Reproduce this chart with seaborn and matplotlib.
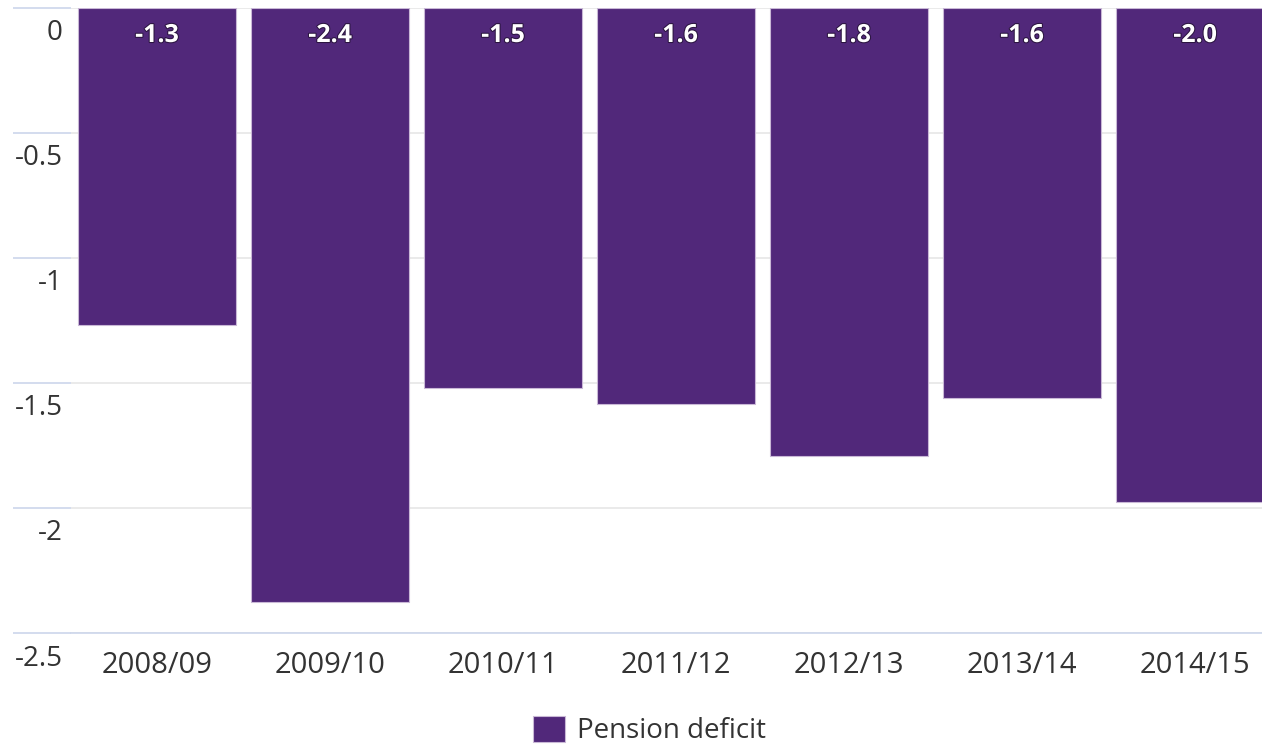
import matplotlib
matplotlib.use("Agg")
import matplotlib.pyplot as plt
import matplotlib.transforms as mtransforms
import matplotlib.patheffects as pe
from matplotlib.patches import Patch
import seaborn as sns
import pandas as pd

categories = ["2008/09", "2009/10", "2010/11", "2011/12", "2012/13", "2013/14", "2014/15"]
values = [-1.27, -2.376, -1.52, -1.584, -1.792, -1.56, -1.976]
yticks = [0, -0.5, -1, -1.5, -2, -2.5]
ytick_labels = ["0", "-0.5", "-1", "-1.5", "-2", "-2.5"]
series_name = "Pension deficit"

BAR = "#51287a"
GRID = "#e6e6e6"
AXIS = "#ccd6eb"
TEXT = "#333333"

sns.set_theme(style="white")
plt.rcParams["font.family"] = ["Open Sans", "DejaVu Sans"]

W, H = 1262, 748
fig = plt.figure(figsize=(W / 100, H / 100), dpi=100)
left_px, right_px, top_px, bot_px = 70.5, 1262, 7.5, 633
ax = fig.add_axes([left_px / W, (H - bot_px) / H, (right_px - left_px) / W, (bot_px - top_px) / H])

df = pd.DataFrame({"year": categories, "value": values})
sns.barplot(data=df, x="year", y="value", color=BAR, saturation=1, width=0.915,
            edgecolor="#c9b8d6", linewidth=0.8, ax=ax, zorder=3)

cat_w = 173.0
ax.set_xlim(-0.5, -0.5 + (right_px - left_px) / cat_w)
ax.set_ylim(-2.5, 0)
ax.set_yticks(yticks)
ax.set_yticklabels(ytick_labels)
ax.set_xlabel("")
ax.set_ylabel("")

ax.set_axisbelow(True)
ax.yaxis.grid(True, color=GRID, linewidth=1.2)
ax.xaxis.grid(False)
for s in ["left", "right", "top"]:
    ax.spines[s].set_visible(False)
ax.spines["bottom"].set_color(AXIS)
ax.spines["bottom"].set_linewidth(1.2)

ax.tick_params(axis="y", left=True, direction="out", length=58.5 * 0.72, width=1.2,
               color=AXIS, pad=0, labelsize=20, labelcolor=TEXT)
ax.tick_params(axis="x", bottom=False, length=0, pad=13, labelsize=21, labelcolor=TEXT)

offset = mtransforms.ScaledTranslation(51 / 100, -22 / 100, fig.dpi_scale_trans)
for lab in ax.get_yticklabels():
    lab.set_transform(lab.get_transform() + offset)

for i, v in enumerate(values):
    ax.annotate(f"{v:.1f}", xy=(i, 0), xytext=(0, -28), textcoords="offset pixels",
                ha="center", va="center", color="white", fontsize=18, fontweight="bold",
                zorder=5, path_effects=[pe.withStroke(linewidth=1.5, foreground="#2b1540")])

handle = Patch(facecolor=BAR, edgecolor="#c9b8d6", linewidth=0.8)
fig.legend([handle], [series_name], loc="lower center", bbox_to_anchor=(649.5 / W, -0.03),
           frameon=False, fontsize=20, labelcolor=TEXT, handlelength=1.15, handleheight=1.05,
           handletextpad=0.4)

fig.savefig("out.png", dpi=100)
